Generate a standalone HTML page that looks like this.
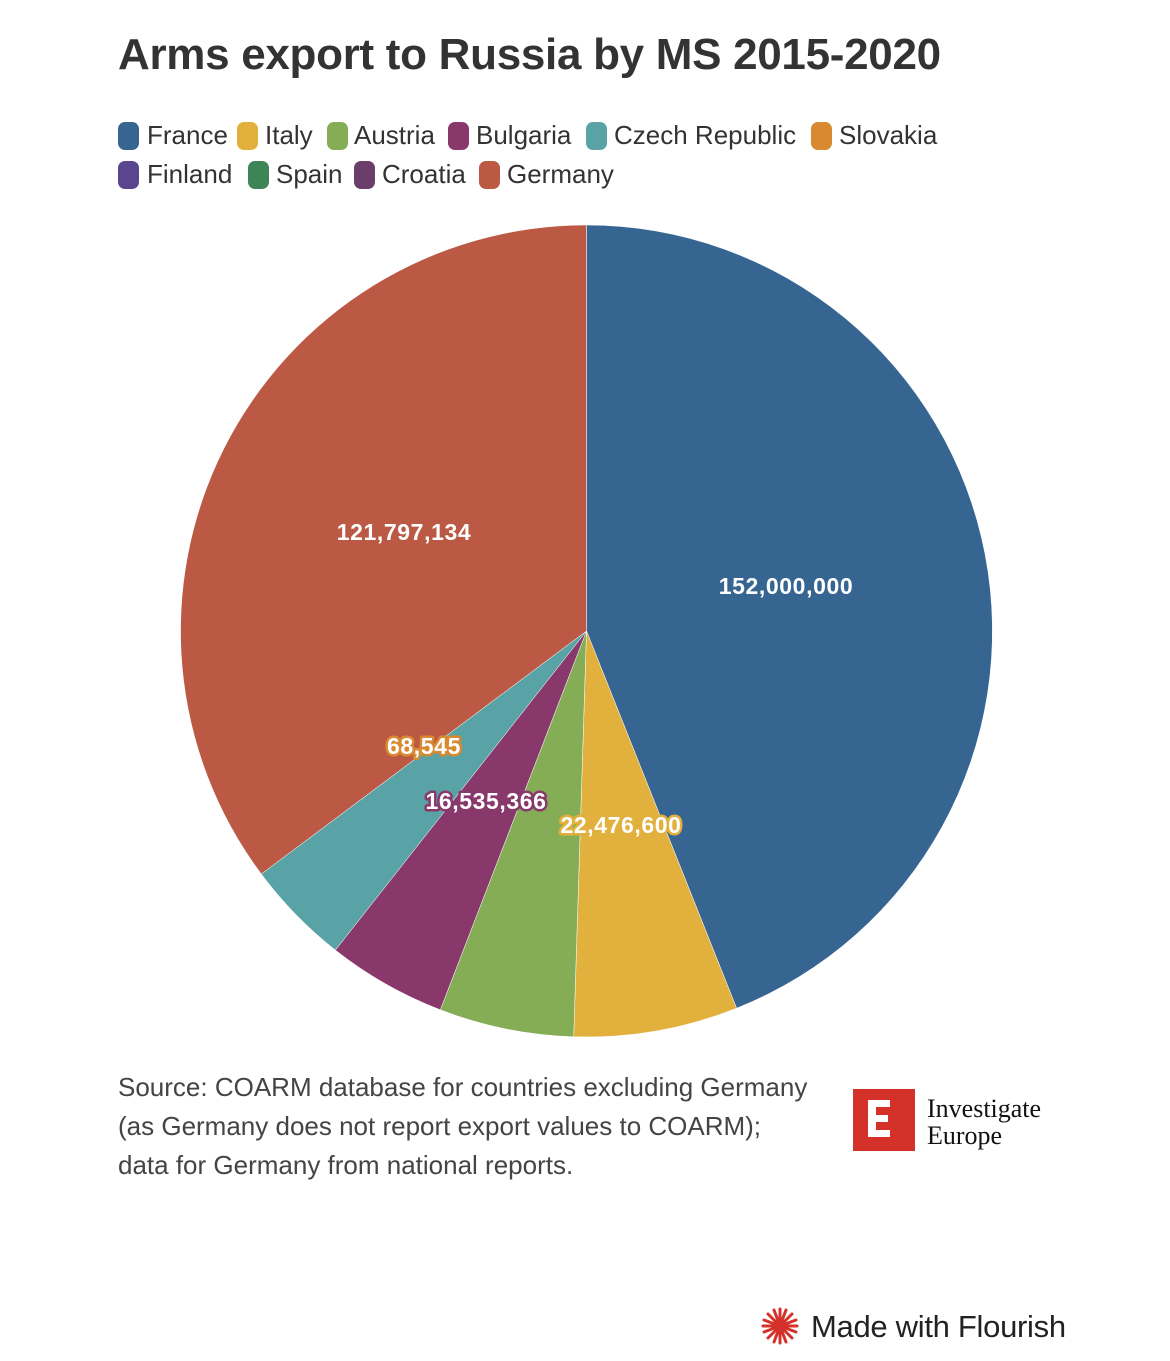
<!DOCTYPE html>
<html><head><meta charset="utf-8"><style>
body{margin:0;background:#fff;width:1170px;height:1361px;position:relative;overflow:hidden;font-family:"Liberation Sans",sans-serif;color:#333}
.t{position:absolute;left:118px;top:30px;font-size:44px;font-weight:bold;color:#333;letter-spacing:-0.3px}
.l{position:absolute;font-size:26px;color:#333;white-space:nowrap}
.m{position:absolute;width:21px;height:28px;border-radius:7px}
.src{position:absolute;left:118px;top:1068px;font-size:26px;line-height:39px;color:#444;white-space:nowrap}
</style></head><body>
<div class="t">Arms export to Russia by MS 2015-2020</div>
<div class="m" style="left:118px;top:122px;background:#376591"></div><div class="l" style="left:147px;top:120px">France</div>
<div class="m" style="left:237px;top:122px;background:#e2b03c"></div><div class="l" style="left:265px;top:120px">Italy</div>
<div class="m" style="left:327px;top:122px;background:#84ad55"></div><div class="l" style="left:354px;top:120px">Austria</div>
<div class="m" style="left:448px;top:122px;background:#88386a"></div><div class="l" style="left:476px;top:120px">Bulgaria</div>
<div class="m" style="left:586px;top:122px;background:#59a2a6"></div><div class="l" style="left:614px;top:120px">Czech Republic</div>
<div class="m" style="left:811px;top:122px;background:#d98a30"></div><div class="l" style="left:839px;top:120px">Slovakia</div>
<div class="m" style="left:118px;top:161px;background:#5a468f"></div><div class="l" style="left:147px;top:159px">Finland</div>
<div class="m" style="left:248px;top:161px;background:#3d8556"></div><div class="l" style="left:276px;top:159px">Spain</div>
<div class="m" style="left:354px;top:161px;background:#6b3d6b"></div><div class="l" style="left:382px;top:159px">Croatia</div>
<div class="m" style="left:479px;top:161px;background:#bb5944"></div><div class="l" style="left:507px;top:159px">Germany</div>
<svg style="position:absolute;left:0;top:0" width="1170" height="1361">
<g stroke="#fff" stroke-width="0.5">
<path d="M586.5 631 L586.5 225 A406 406 0 0 1 736.6 1008.2 Z" fill="#376591"/>
<path d="M586.5 631 L736.6 1008.2 A406 406 0 0 1 573.7 1036.8 Z" fill="#e2b03c"/>
<path d="M586.5 631 L573.7 1036.8 A406 406 0 0 1 440.3 1009.8 Z" fill="#84ad55"/>
<path d="M586.5 631 L440.3 1009.8 A406 406 0 0 1 335.4 950.1 Z" fill="#88386a"/>
<path d="M586.5 631 L335.4 950.1 A406 406 0 0 1 261.3 874 Z" fill="#59a2a6"/>
<path d="M586.5 631 L261.3 874 A406 406 0 0 1 586.5 225 Z" fill="#bb5944"/>
</g>
<g font-family="Liberation Sans,sans-serif" font-weight="bold" font-size="23" fill="#fff" text-anchor="middle" paint-order="stroke" stroke-linejoin="round" letter-spacing="0.6">
<text x="786" y="594">152,000,000</text>
<text x="404" y="540">121,797,134</text>
<text x="424" y="754" stroke="#d98a30" stroke-width="5">68,545</text>
<text x="486" y="809" stroke="#88386a" stroke-width="5">16,535,366</text>
<text x="621" y="833" stroke="#e2b03c" stroke-width="5">22,476,600</text>
</g>
<rect x="853" y="1089" width="62" height="62" fill="#d3312a"/>
<path d="M868 1100h22v7h-14v8h12v7h-12v8h14v7h-22z" fill="#fff"/>
<text x="927" y="1117" font-family="Liberation Serif,serif" font-size="26" fill="#111">Investigate</text>
<text x="927" y="1144" font-family="Liberation Serif,serif" font-size="26" fill="#111">Europe</text>
<g transform="translate(780,1326)" stroke="#d3312a" stroke-width="3" stroke-linecap="round">
<line x1="-17" y1="0" x2="17" y2="0"/><line x1="0" y1="-17" x2="0" y2="17"/>
<line x1="-12" y1="-12" x2="12" y2="12"/><line x1="-12" y1="12" x2="12" y2="-12"/>
<line x1="-16" y1="-6" x2="16" y2="6"/><line x1="-16" y1="6" x2="16" y2="-6"/>
<line x1="-6" y1="-16" x2="6" y2="16"/><line x1="6" y1="-16" x2="-6" y2="16"/>
</g>
<text x="811" y="1337" font-family="Liberation Sans,sans-serif" font-size="31" fill="#222" letter-spacing="-0.3">Made with Flourish</text>
</svg>
<div class="src">Source: COARM database for countries excluding Germany<br>(as Germany does not report export values to COARM);<br>data for Germany from national reports.</div>
</body></html>
